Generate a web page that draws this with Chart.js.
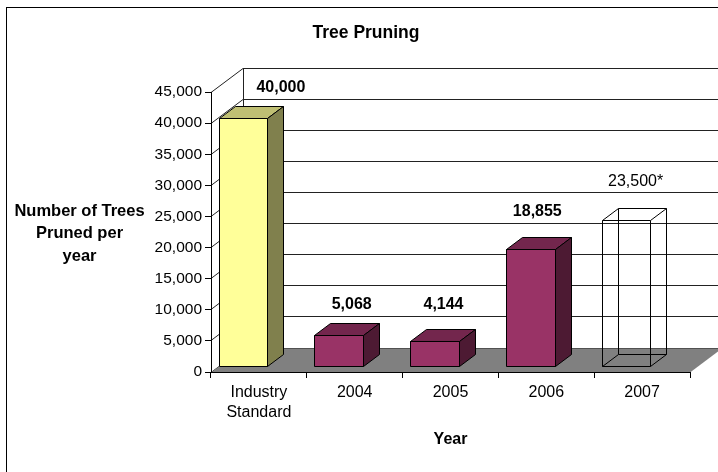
<!DOCTYPE html>
<html>
<head>
<meta charset="utf-8">
<title>Tree Pruning</title>
<script src="https://cdn.jsdelivr.net/npm/chart.js@4.4.0/dist/chart.umd.min.js"></script>
<style>
  html, body { margin: 0; padding: 0; background: #fff; }
  #wrap { width: 718px; height: 472px; position: relative; }
</style>
</head>
<body>
<div id="wrap"><canvas id="pruningChart"></canvas></div>
<script>
// chart data
const categories = [['Industry', 'Standard'], '2004', '2005', '2006', '2007'];
const treesPruned = [40000, 5068, 4144, 18855, 23500];
const isEstimate = [false, false, false, false, true];
const yMax = 45000;
const yStep = 5000;

const chartTitle = 'Tree Pruning';
const yTitleLines = ['Number of Trees', 'Pruned per', 'year'];
const xTitle = 'Year';

// bar styles (Excel 3D look)
const frontColors = ['#FFFF99', '#993366', '#993366', '#993366', null];
const topColors = ['#BFBF73', '#73264D', '#73264D', '#73264D', null];
const sideColors = ['#80804D', '#4D1A33', '#4D1A33', '#4D1A33', null];

// label nudges, relative to the back top edge of each bar
const labelNudgeX = [22, -3, -7, -9, -6.5];
const labelNudgeY = [-19, -19, -24.5, -26, -27];

const FONT = "'Liberation Sans', Arial, sans-serif";
const depth = { wallX: 32, wallY: -24, barX: 16, barY: -12, shiftX: -15.5, shiftY: -5 };

function crisp(v) {
    return Math.round(v - 0.5) + 0.5;
}

function poly(ctx, pts, fill) {
    ctx.beginPath();
    ctx.moveTo(pts[0][0], pts[0][1]);
    for (let i = 1; i < pts.length; i++) ctx.lineTo(pts[i][0], pts[i][1]);
    ctx.closePath();
    if (fill) {
        ctx.fillStyle = fill;
        ctx.fill();
    }
    ctx.stroke();
}

const excel3d = {
    id: 'excel3d',
    beforeDraw(chart) {
        const { ctx, chartArea: a, scales: { y } } = chart;
        ctx.save();
        ctx.fillStyle = '#fff';
        ctx.fillRect(0, 0, chart.width, chart.height);

        // outer frame (only left/top visible)
        ctx.strokeStyle = '#000';
        ctx.lineWidth = 1;
        ctx.strokeRect(6.5, 7.5, chart.width + 40, chart.height + 40);

        // side wall + back wall gridlines
        ctx.strokeStyle = '#222';
        y.ticks.forEach(t => {
            const py = crisp(y.getPixelForValue(t.value));
            ctx.beginPath();
            ctx.moveTo(a.left, py);
            ctx.lineTo(a.left + depth.wallX, py + depth.wallY);
            ctx.lineTo(a.right + depth.wallX + 2, py + depth.wallY);
            ctx.stroke();
        });
        const backLeft = crisp(a.left + depth.wallX);
        ctx.beginPath();
        ctx.moveTo(backLeft, crisp(a.top) + depth.wallY);
        ctx.lineTo(backLeft, crisp(a.bottom) + depth.wallY);
        ctx.stroke();

        // floor
        const b = crisp(y.getPixelForValue(0));
        ctx.beginPath();
        ctx.moveTo(a.left, b);
        ctx.lineTo(a.left + depth.wallX, b + depth.wallY);
        ctx.lineTo(a.right + depth.wallX, b + depth.wallY);
        ctx.lineTo(a.right, b);
        ctx.closePath();
        ctx.fillStyle = '#808080';
        ctx.fill();
        ctx.restore();
    },
    afterDatasetsDraw(chart) {
        const { ctx } = chart;
        const meta = chart.getDatasetMeta(0);
        const dx = depth.barX, dy = depth.barY;
        ctx.save();
        ctx.lineWidth = 1;
        ctx.strokeStyle = '#000';
        meta.data.forEach((bar, i) => {
            const w = bar.width;
            const x0 = crisp(bar.x + depth.shiftX - w / 2);
            const x1 = crisp(bar.x + depth.shiftX + w / 2);
            const yT = crisp(bar.y + depth.shiftY);
            const yB = crisp(bar.base + depth.shiftY);

            if (!frontColors[i]) {
                // see-through box for the estimate
                poly(ctx, [[x0 + dx, yT + dy], [x1 + dx, yT + dy], [x1 + dx, yB + dy], [x0 + dx, yB + dy]]);
                [[x0, yT], [x1, yT], [x1, yB], [x0, yB]].forEach(p => {
                    ctx.beginPath();
                    ctx.moveTo(p[0], p[1]);
                    ctx.lineTo(p[0] + dx, p[1] + dy);
                    ctx.stroke();
                });
                poly(ctx, [[x0, yT], [x1, yT], [x1, yB], [x0, yB]]);
            } else {
                poly(ctx, [[x0, yT], [x1, yT], [x1, yB], [x0, yB]], frontColors[i]);
                poly(ctx, [[x0, yT], [x0 + dx, yT + dy], [x1 + dx, yT + dy], [x1, yT]], topColors[i]);
                poly(ctx, [[x1, yT], [x1 + dx, yT + dy], [x1 + dx, yB + dy], [x1, yB]], sideColors[i]);
            }

            // value label
            const text = treesPruned[i].toLocaleString('en-US') + (isEstimate[i] ? '*' : '');
            ctx.fillStyle = '#000';
            ctx.textAlign = 'center';
            ctx.textBaseline = 'middle';
            ctx.font = (isEstimate[i] ? '' : 'bold ') + '16px ' + FONT;
            ctx.fillText(text, bar.x + labelNudgeX[i], yT + dy + labelNudgeY[i]);
        });
        ctx.restore();
    },
    afterDraw(chart) {
        const { ctx } = chart;
        ctx.save();
        ctx.fillStyle = '#000';
        ctx.textAlign = 'center';
        ctx.textBaseline = 'middle';
        ctx.font = 'bold 17.5px ' + FONT;
        ctx.fillText(chartTitle, 366, 33.5);
        ctx.font = 'bold 16.5px ' + FONT;
        yTitleLines.forEach((line, i) => {
            ctx.fillText(line, 79.5, 211.7 + i * 22.2);
        });
        ctx.restore();
    }
};

const ctx = document.getElementById('pruningChart').getContext('2d');

new Chart(ctx, {
    type: 'bar',
    data: {
        labels: categories,
        datasets: [{
            data: treesPruned,
            backgroundColor: 'rgba(0,0,0,0)',
            borderWidth: 0,
            barPercentage: 0.506,
            categoryPercentage: 1
        }]
    },
    options: {
        responsive: true,
        maintainAspectRatio: false,
        animation: false,
        devicePixelRatio: 1,
        layout: { padding: { left: 0, top: 92, right: 28, bottom: 0 } },
        plugins: {
            legend: { display: false },
            tooltip: { enabled: false },
            title: { display: false }
        },
        scales: {
            x: {
                offset: true,
                grid: { offset: true, drawOnChartArea: false, drawTicks: true, tickLength: 6, color: '#000' },
                border: { display: true, color: '#000' },
                ticks: {
                    color: '#000',
                    font: { family: FONT, size: 16, lineHeight: 1.25 },
                    padding: 5,
                    maxRotation: 0,
                    autoSkip: false
                },
                title: {
                    display: true,
                    text: xTitle,
                    color: '#000',
                    font: { family: FONT, size: 16, weight: 'bold' },
                    padding: { top: 0, bottom: 23 }
                },
                afterFit(scale) { scale.height = 100; }
            },
            y: {
                min: 0,
                max: yMax,
                ticks: {
                    stepSize: yStep,
                    color: '#000',
                    font: { family: FONT, size: 15.5 },
                    padding: 3,
                    callback: v => v.toLocaleString('en-US')
                },
                grid: { drawOnChartArea: false, tickLength: 6, color: '#000' },
                border: { display: true, color: '#000' },
                afterFit(scale) { scale.width = 211; }
            }
        }
    },
    plugins: [excel3d]
});
</script>
</body>
</html>
